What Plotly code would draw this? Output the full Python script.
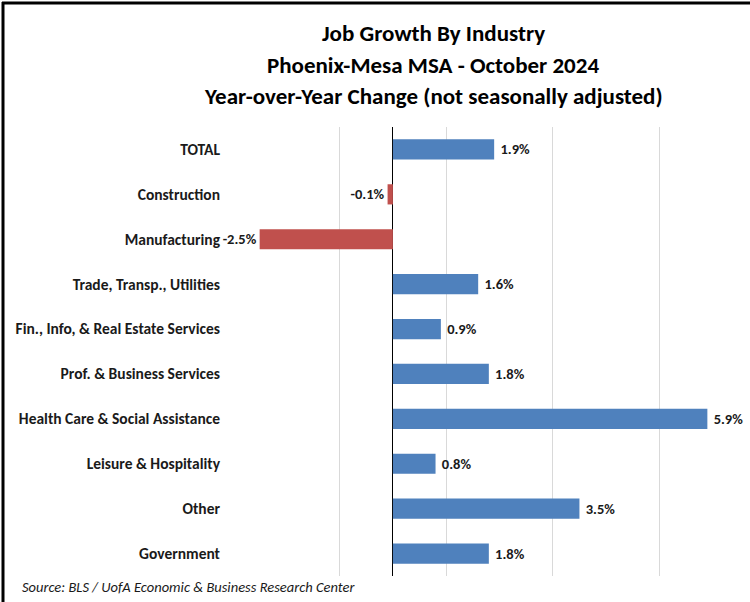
import plotly.graph_objects as go

# chart data
industries = ['TOTAL', 'Construction', 'Manufacturing', 'Trade, Transp., Utilities',
              'Fin., Info, & Real Estate Services', 'Prof. & Business Services',
              'Health Care & Social Assistance', 'Leisure & Hospitality', 'Other',
              'Government']
yoy_change = [1.9, -0.1, -2.5, 1.6, 0.9, 1.8, 5.9, 0.8, 3.5, 1.8]
grid_ticks = [-3, -1, 1, 3, 5]

title_lines = ['Job Growth By Industry',
               'Phoenix-Mesa MSA - October 2024',
               'Year-over-Year Change (not seasonally adjusted)']
source_note = 'Source: BLS / UofA Economic & Business Research Center'

BLUE = '#4F81BD'
RED = '#C0504D'
FONT = 'Carlito, Lato, sans-serif'

W, H = 750, 602
L, R, T, B = 233, 0, 127, 26


def px_x(px):
    """Convert a pixel x position into paper coordinates."""
    return (px - L) / (W - L - R)


def px_y(py):
    """Convert a pixel y position into paper coordinates."""
    return (H - B - py) / (H - T - B)


colors = [BLUE if v >= 0 else RED for v in yoy_change]

fig = go.Figure()
fig.add_trace(go.Bar(x=yoy_change, y=industries, orientation='h',
                     marker=dict(color=colors, line=dict(width=0)),
                     texttemplate=' <b>%{x:.1f}%</b>', textposition='outside',
                     textfont=dict(family=FONT, size=14.5, color='#1a1a1a'),
                     cliponaxis=False, hoverinfo='skip'))

fig.update_layout(width=W, height=H, margin=dict(l=L, r=R, t=T, b=B),
                  paper_bgcolor='white', plot_bgcolor='white',
                  bargap=0.55, showlegend=False,
                  font=dict(family=FONT, color='#1a1a1a'))

fig.update_xaxes(range=[-3, 6.7], tickvals=grid_ticks, showticklabels=False,
                 showgrid=True, gridcolor='#D9D9D9', gridwidth=1,
                 zeroline=True, zerolinecolor='black', zerolinewidth=1,
                 showline=False)
fig.update_yaxes(autorange='reversed', showgrid=False, showline=False,
                 ticks='', ticklabelstandoff=12,
                 tickvals=industries, ticktext=['<b>' + s + '</b>' for s in industries],
                 tickfont=dict(family=FONT, size=15.5, color='#1a1a1a'))

# three title lines
for text, py in zip(title_lines, [33, 65, 96]):
    fig.add_annotation(text='<b>' + text + '</b>', xref='paper', yref='paper',
                       x=px_x(433), y=px_y(py), xanchor='center', yanchor='middle',
                       showarrow=False, font=dict(family=FONT, size=23, color='black'))

fig.add_annotation(text='<i>' + source_note + '</i>', xref='paper', yref='paper',
                   x=px_x(20), y=px_y(587), xanchor='left', yanchor='middle',
                   showarrow=False, font=dict(family=FONT, size=14.5, color='#1a1a1a'))

# chart frame (left and top edges visible)
fig.add_shape(type='line', xref='paper', yref='paper', x0=px_x(3), x1=px_x(3),
              y0=px_y(2), y1=px_y(H), line=dict(color='black', width=3))
fig.add_shape(type='line', xref='paper', yref='paper', x0=px_x(2), x1=px_x(W),
              y0=px_y(3), y1=px_y(3), line=dict(color='black', width=3))

# drop the browser's default page margin so the figure sits at the top-left corner
fig.write_html('out.html', config={'displayModeBar': False},
               post_script="document.body.style.margin = '0';")
